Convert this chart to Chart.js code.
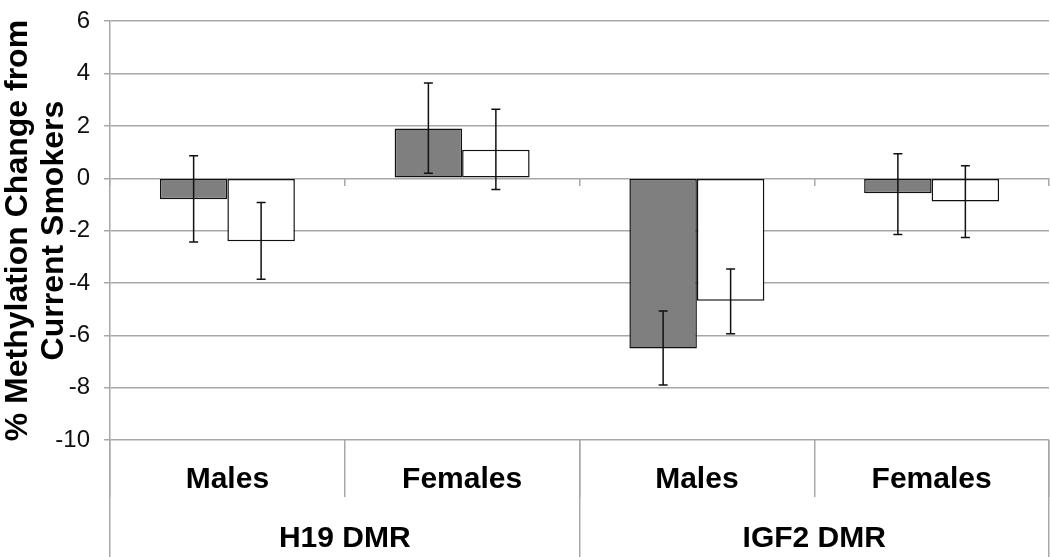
<!DOCTYPE html>
<html>
  <head>
    <title>Methylation Change from Current Smokers</title>
    <script src="https://cdn.jsdelivr.net/npm/chart.js"></script>
    <style>
      body {
        margin: 0;
        background: #fff;
      }

      #wrap {
        width: 1050px;
        height: 557px;
      }
    </style>
  </head>
  <body>
    <div id="wrap"><canvas id="methChart"></canvas></div>

    <script>
      // categories
      const sexLabels = ['Males', 'Females', 'Males', 'Females'];
      const regionLabels = ['H19 DMR', 'IGF2 DMR'];

      // gray bars
      const grayValues = [-0.8, 1.9, -6.5, -0.57];
      const grayUpper = [0.86, 3.64, -5.07, 0.94];
      const grayLower = [-2.44, 0.19, -7.9, -2.15];

      // white bars
      const whiteValues = [-2.41, 1.09, -4.68, -0.89];
      const whiteUpper = [-0.93, 2.64, -3.47, 0.48];
      const whiteLower = [-3.86, -0.43, -5.94, -2.26];

      const yTicks = [-10, -8, -6, -4, -2, 0, 2, 4, 6];

      const gridGray = '#a8a8a8';
      const fontFamily = '"Liberation Sans", Arial, Helvetica, sans-serif';

      const errorBars = {
        id: 'errorBars',
        afterDatasetsDraw(chart) {
          const ctx = chart.ctx;
          const y = chart.scales.y;
          const bounds = [
            [grayUpper, grayLower],
            [whiteUpper, whiteLower],
          ];
          ctx.save();
          ctx.strokeStyle = '#111';
          ctx.lineWidth = 1.5;
          chart.data.datasets.forEach((ds, i) => {
            const meta = chart.getDatasetMeta(i);
            meta.data.forEach((bar, j) => {
              const top = y.getPixelForValue(bounds[i][0][j]);
              const bottom = y.getPixelForValue(bounds[i][1][j]);
              const x = bar.x;
              ctx.beginPath();
              ctx.moveTo(x, top);
              ctx.lineTo(x, bottom);
              ctx.moveTo(x - 4.5, top);
              ctx.lineTo(x + 4.5, top);
              ctx.moveTo(x - 4.5, bottom);
              ctx.lineTo(x + 4.5, bottom);
              ctx.stroke();
            });
          });
          ctx.restore();
        },
      };

      // axes that only draw tick marks (separators), hung on a y value
      const tickOnlyAxis = (labels, yValue, len) => ({
        type: 'category',
        labels: labels,
        position: { y: yValue },
        grid: {
          offset: true,
          drawOnChartArea: false,
          color: gridGray,
          lineWidth: 1.5,
          tickLength: len,
        },
        border: { display: false },
        ticks: { display: false },
      });

      const ctx = document.getElementById('methChart').getContext('2d');
      new Chart(ctx, {
        type: 'bar',
        data: {
          labels: sexLabels,
          datasets: [
            {
              label: 'gray',
              data: grayValues,
              backgroundColor: '#7f7f7f',
              borderColor: '#111',
              borderWidth: 1.5,
              borderSkipped: false,
            },
            {
              label: 'white',
              data: whiteValues,
              backgroundColor: '#ffffff',
              borderColor: '#111',
              borderWidth: 1.5,
              borderSkipped: false,
            },
          ],
        },
        options: {
          responsive: true,
          maintainAspectRatio: false,
          animation: false,
          layout: {
            padding: { top: 8, right: 1, bottom: 0, left: 0 },
          },
          datasets: {
            bar: {
              categoryPercentage: 0.575,
              barPercentage: 1,
            },
          },
          plugins: {
            legend: { display: false },
            tooltip: { enabled: false },
          },
          scales: {
            y: {
              min: -10,
              max: 6,
              afterBuildTicks: (axis) => {
                axis.ticks = yTicks.map((v) => ({ value: v }));
              },
              afterFit: (axis) => {
                axis.width = 110;
              },
              grid: {
                color: gridGray,
                lineWidth: 1.5,
                tickLength: 6,
              },
              border: { color: gridGray, width: 1.5 },
              ticks: {
                color: '#111',
                padding: 14,
                font: { family: fontFamily, size: 24, lineHeight: 0.6 },
              },
              title: {
                display: true,
                text: ['% Methylation Change from', 'Current Smokers'],
                color: '#000',
                padding: { top: 0, bottom: 0 },
                font: {
                  family: fontFamily,
                  size: 32,
                  weight: 'bold',
                  lineHeight: 1.125,
                },
              },
            },
            x: {
              weight: 0,
              grid: { display: false, drawTicks: false },
              border: { display: false },
              ticks: {
                color: '#000',
                padding: 22,
                maxRotation: 0,
                autoSkip: false,
                font: { family: fontFamily, size: 30, weight: 'bold' },
              },
            },
            x2: {
              type: 'category',
              position: 'bottom',
              weight: 1,
              labels: regionLabels,
              grid: { display: false, drawTicks: false },
              border: { display: false },
              ticks: {
                color: '#000',
                padding: 0.5,
                maxRotation: 0,
                autoSkip: false,
                font: { family: fontFamily, size: 30, weight: 'bold' },
              },
            },
            xSexSep: tickOnlyAxis(sexLabels, -10, 57),
            xRegionSep: tickOnlyAxis(regionLabels, -10, 117),
            xZero: tickOnlyAxis(sexLabels, 0, 8),
          },
        },
        plugins: [errorBars],
      });
    </script>
  </body>
</html>
